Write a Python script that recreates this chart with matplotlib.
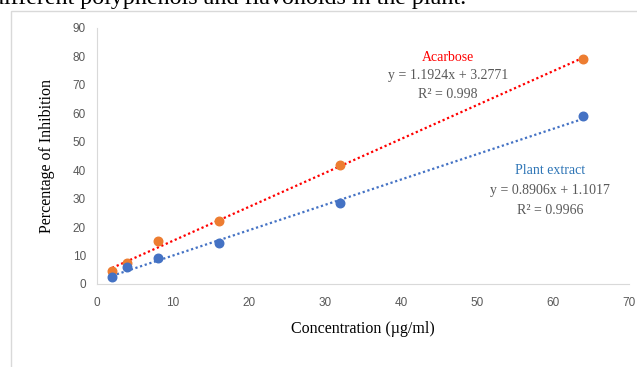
import matplotlib.pyplot as plt
import numpy as np
from matplotlib.patches import Rectangle

# data
conc = [2, 4, 8, 16, 32, 64]
plant = [2.5, 6.0, 9.0, 14.5, 28.5, 59.0]
acarbose = [4.5, 7.5, 15.0, 22.0, 42.0, 79.0]
plant_fit = (0.8906, 1.1017)
acarbose_fit = (1.1924, 3.2771)
xticks = [0, 10, 20, 30, 40, 50, 60, 70]
yticks = [0, 10, 20, 30, 40, 50, 60, 70, 80, 90]

serif = 'Liberation Serif'
blue = '#4472C4'
orange = '#ED7D31'
gray = '#595959'

fig = plt.figure(figsize=(6.37, 3.67), dpi=100)
fig.patch.set_facecolor('white')

# chart frame
fig.patches.append(Rectangle((11 / 637, -0.05), 1.0, 1 - 11 / 367 + 0.05,
                             transform=fig.transFigure, fill=False,
                             edgecolor='#D9D9D9', linewidth=1))
# clipped caption line from the page above
fig.text(-0.012, 1.005, 'different polyphenols and flavonoids in the plant.',
         family=serif, fontsize=17.3, ha='left', va='center')

ax = fig.add_axes([97 / 637, 1 - 284 / 367, 532 / 637, 256 / 367])

xs = np.array([conc[0], conc[-1]])
ax.plot(xs, acarbose_fit[0] * xs + acarbose_fit[1], ls=(0, (1, 1.2)), color='#FF0000', lw=1.6)
ax.plot(xs, plant_fit[0] * xs + plant_fit[1], ls=(0, (1, 1.2)), color=blue, lw=1.6)
ax.scatter(conc, acarbose, s=38, color=orange, zorder=3)
ax.scatter(conc, plant, s=38, color=blue, zorder=3)

ax.set_xlim(0, 70)
ax.set_ylim(0, 90)
ax.set_xticks(xticks)
ax.set_yticks(yticks)
ax.tick_params(length=0, labelsize=8.5, labelcolor=gray)
ax.tick_params(axis='x', pad=9)
ax.tick_params(axis='y', pad=8)
for lab in ax.get_xticklabels() + ax.get_yticklabels():
    lab.set_family('Liberation Sans')
for s in ['top', 'right']:
    ax.spines[s].set_visible(False)
for s in ['left', 'bottom']:
    ax.spines[s].set_color('#D9D9D9')

ax.set_xlabel('Concentration (µg/ml)', family=serif, fontsize=11.5, labelpad=9)
ax.set_ylabel('Percentage of Inhibition', family=serif, fontsize=11.5, labelpad=13)

ax.text(46.2, 79.8, 'Acarbose', family=serif, fontsize=10, color='#FF0000', ha='center', va='center')
ax.text(46.2, 73.3, 'y = 1.1924x + 3.2771', family=serif, fontsize=10, color=gray, ha='center', va='center')
ax.text(46.2, 66.5, 'R² = 0.998', family=serif, fontsize=10, color=gray, ha='center', va='center')
ax.text(59.6, 40.0, 'Plant extract', family=serif, fontsize=10, color='#2E75B6', ha='center', va='center')
ax.text(59.6, 33.0, 'y = 0.8906x + 1.1017', family=serif, fontsize=10, color=gray, ha='center', va='center')
ax.text(59.6, 25.7, 'R² = 0.9966', family=serif, fontsize=10, color=gray, ha='center', va='center')

fig.savefig('out.png', dpi=100)
